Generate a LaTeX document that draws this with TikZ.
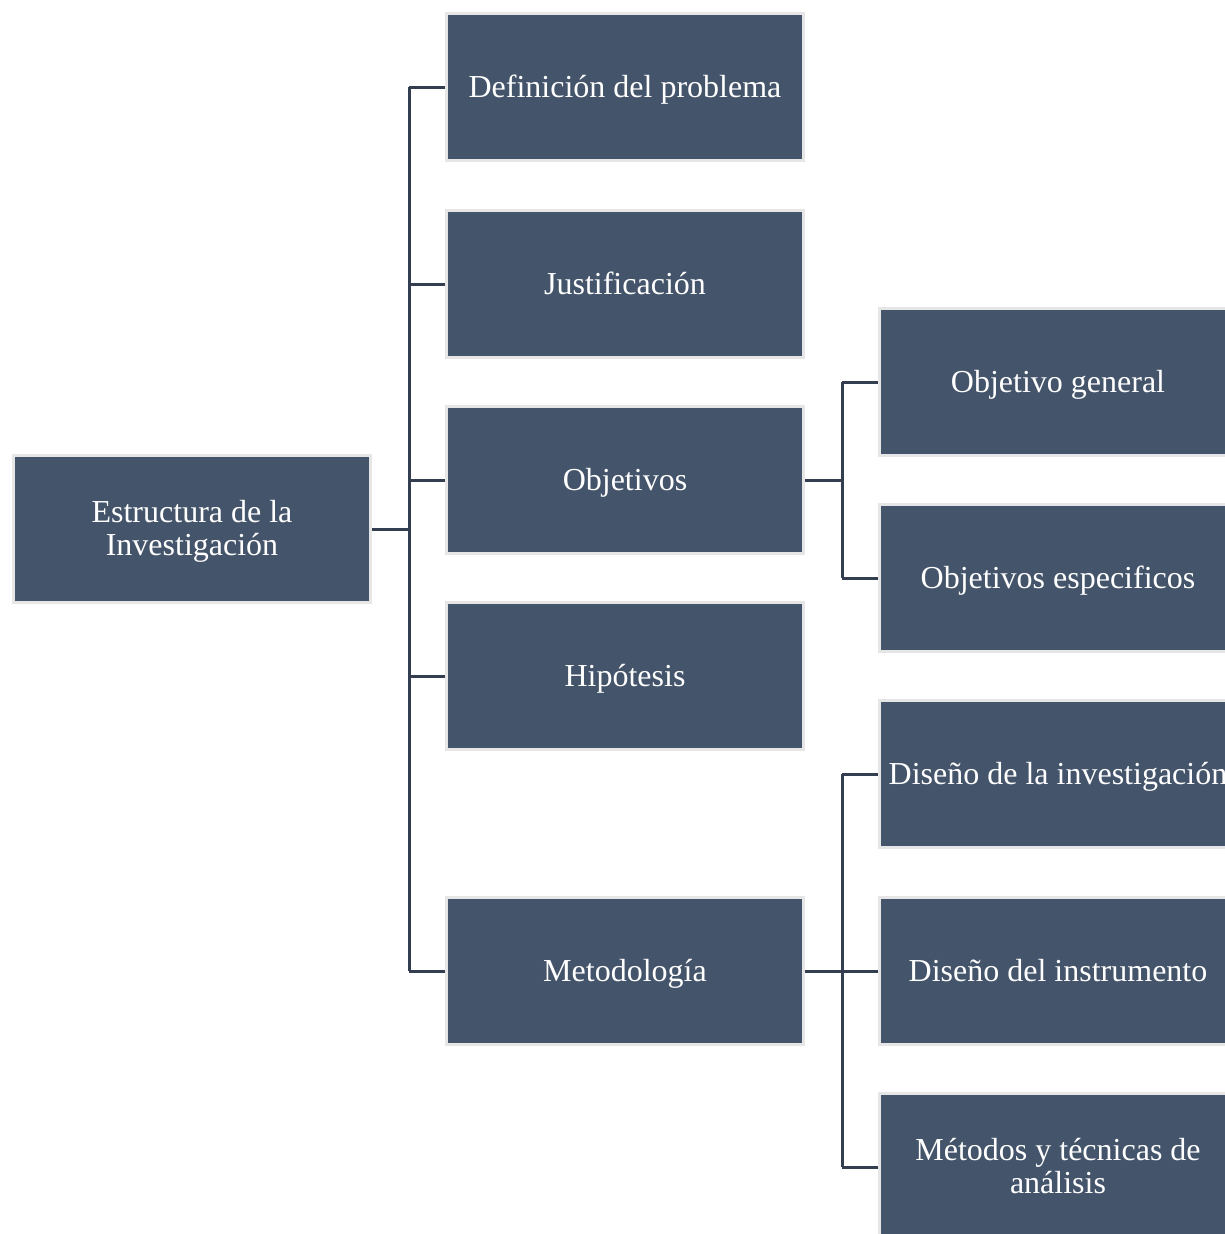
\documentclass[tikz,border=0pt]{standalone}
\usepackage{fontspec}
\setmainfont{Liberation Serif}
\newcommand{\topstrut}{\rule{0pt}{30pt}}
\newcommand{\botstrut}{\rule[-11pt]{0pt}{11pt}}
\begin{document}
\begin{tikzpicture}[x=1pt,y=-1pt,
  box/.style={rectangle, fill=boxfill, draw=boxline, line width=2.5pt, minimum width=357pt, minimum height=147pt, inner sep=0pt, text=white, align=center, font=\fontsize{32}{33}\selectfont, text height=26pt, text depth=6pt},
  twoline/.style={text height={}, text depth={}},
  conn/.style={draw=connc, line width=3pt}]
\definecolor{boxfill}{HTML}{44546A}
\definecolor{boxline}{HTML}{E7E6E6}
\definecolor{connc}{HTML}{333F50}
\useasboundingbox (0,0) rectangle (1225,1234);
\clip (0,0) rectangle (1225,1234);
\node[box,twoline] (root) at (192,529) {\topstrut Estructura de la\\Investigación\botstrut};
\node[box] (def) at (625,87) {Definición del problema};
\node[box] (jus) at (625,284) {Justificación};
\node[box] (obj) at (625,480) {Objetivos};
\node[box] (hip) at (625,676) {Hipótesis};
\node[box] (met) at (625,971) {Metodología};
\node[box] (og) at (1058,382) {Objetivo general};
\node[box] (oe) at (1058,578) {Objetivos especificos};
\node[box] (di) at (1058,774) {Diseño de la investigación};
\node[box] (dins) at (1058,971) {Diseño del instrumento};
\node[box,twoline] (mt) at (1058,1167) {\topstrut Métodos y técnicas de\\análisis\botstrut};
\coordinate (b1) at (409,529);
\coordinate (b2) at (842,480);
\coordinate (b3) at (842,971);
\draw[conn] (root.east) -- (b1);
\foreach \n in {def,jus,obj,hip,met} \draw[conn] (\n.west) -- (b1 |- \n.west);
\draw[conn] (b1 |- def.west) -- (b1 |- met.west);
\draw[conn] (obj.east) -- (b2);
\foreach \n in {og,oe} \draw[conn] (\n.west) -- (b2 |- \n.west);
\draw[conn] (b2 |- og.west) -- (b2 |- oe.west);
\draw[conn] (met.east) -- (b3);
\foreach \n in {di,dins,mt} \draw[conn] (\n.west) -- (b3 |- \n.west);
\draw[conn] (b3 |- di.west) -- (b3 |- mt.west);
\end{tikzpicture}
\end{document}
